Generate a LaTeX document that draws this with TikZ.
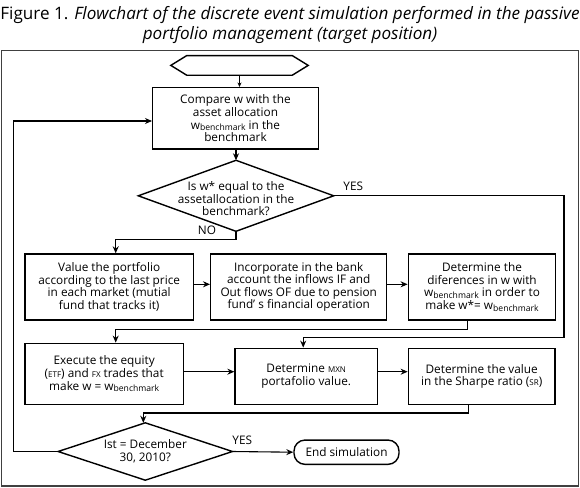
\documentclass[tikz,border=0pt]{standalone}
\usepackage{fontspec}
\setmainfont{Open Sans}
\usetikzlibrary{arrows.meta,calc}
\newcommand\wbm{w\raisebox{-0.25ex}{\fontsize{8.6}{8.6}\selectfont benchmark}}
\newcommand\smc[1]{{\fontsize{8}{8}\selectfont #1}}
\begin{document}
\begin{tikzpicture}[x=1pt,y=-1pt,
  box/.style={draw=black, line width=1.4pt, align=center, inner sep=0pt, font=\fontsize{11.8}{12.6}\selectfont},
  dec/.style={align=center, inner sep=0pt, font=\fontsize{11.8}{12.6}\selectfont},
  decline/.style={line width=1.4pt, line join=miter},
  conn/.style={line width=1.1pt, -{Stealth[length=7pt,width=6pt]}},
  thinconn/.style={line width=0.6pt, -{Stealth[length=4.5pt,width=4pt]}},
  lbl/.style={font=\fontsize{11.8}{12}\selectfont, inner sep=0pt},
  frame/.style={draw=black!75, line width=1.3pt}
]
\useasboundingbox (0,0) rectangle (580,487);
% title
\node[anchor=base, font=\fontsize{17.1}{20}\selectfont, inner sep=0pt] (t1) at (290,19.5) {Figure 1. \textit{Flowchart of the discrete event simulation performed in the passive}};
\node[anchor=base, font=\fontsize{17.1}{20}\selectfont, inner sep=0pt] (t2) at (290,39.5) {\textit{portfolio management (target position)}};
% frame
\draw[frame] (1.5,50.7) rectangle (578.5,486);
% start hexagon
\node[minimum width=137pt, minimum height=19.3pt, inner sep=0pt] (start) at (239.5,65.4) {};
\draw[decline] (start.west) -- ([xshift=16pt]start.north west) -- ([xshift=-16pt]start.north east) -- (start.east) -- ([xshift=-16pt]start.south east) -- ([xshift=16pt]start.south west) -- cycle;
% boxes
\node[box, minimum width=165.6pt, minimum height=61.3pt] (b1) at (235.5,118.3) {Compare w with the\\asset allocation\\\wbm{} in the\\benchmark};
\node[dec, minimum width=195pt, minimum height=70.6pt] (d1) at (236,195.8) {};
\node[dec] (d1t) at (236,198.8) {Is w* equal to the\\assetallocation in the\\benchmark?};
\draw[decline] (d1.north) -- (d1.east) -- (d1.south) -- (d1.west) -- cycle;
\node[box, minimum width=168.3pt, minimum height=66pt] (b2) at (109.2,287) {Value the portfolio\\according to the last price\\in each market (mutial\\fund that tracks it)};
\node[box, minimum width=176pt, minimum height=66pt] (b3) at (298.7,287) {Incorporate in the bank\\account the inflows IF and\\Out flows OF due to pension\\fund’ s financial operation};
\node[box, minimum width=147.4pt, minimum height=66pt] (b4) at (482,287) {Determine the\\diferences in w with\\\wbm{} in order to\\make w*= \wbm};
\node[box, minimum width=158.3pt, minimum height=61pt] (b5) at (104.2,373.8) {Execute the equity\\(\smc{ETF}) and \smc{FX} trades that\\make w = \wbm};
\node[box, minimum width=142.3pt, minimum height=56pt] (b6) at (306.2,376.3) {Determine \smc{MXN}\\portafolio value.};
\node[box, minimum width=146.7pt, minimum height=56pt] (b7) at (481.7,376.3) {Determine the value\\in the Sharpe ratio (\smc{SR})};
\node[dec, minimum width=174pt, minimum height=57pt] (d2) at (145.3,451.5) {Ist = December\\30, 2010?};
\draw[decline] (d2.north) -- (d2.east) -- (d2.south) -- (d2.west) -- cycle;
\node[box, minimum width=105pt, minimum height=24.3pt, rounded corners=11pt] (end) at (346.5,452.2) {End simulation};
% labels
\node[lbl] (yes1) at (353.3,186.7) {YES};
\node[lbl] (no1) at (207,230.7) {NO};
\node[lbl] (yes2) at (242.3,440) {YES};
% connectors
\coordinate (yc) at (564,337.3);
\coordinate (lp) at (13.3,121);
\draw[thinconn] (start.south) -- (start.south |- b1.north);
\draw[conn] (d1.north |- b1.south) -- (d1.north);
\draw[conn] (d1.south) -- ++(0,8.3) -| ([xshift=6.5pt]b2.north);
\draw[conn] (d1.east) -| (yc) -| ([xshift=-3pt]b6.north);
\draw[conn] ([yshift=2.7pt]b2.east) -- ([yshift=2.7pt]b3.west);
\draw[conn] ([yshift=2.7pt]b3.east) -- ([yshift=2.7pt]b4.west);
\draw[conn] ([xshift=-14.3pt]b4.south) -- ++(0,9) -| ([xshift=11.5pt]b5.north);
\draw[conn] ([yshift=2.1pt]b5.east) -- ([yshift=2.1pt]b5.east -| b6.west);
\draw[conn] ([yshift=2.1pt]b5.east -| b6.east) -- ([yshift=2.1pt]b5.east -| b7.west);
\draw[conn] ([xshift=-13.4pt]b7.south) -- ++(0,8) -| ([xshift=-2pt]d2.north);
\draw[conn] (d2.east) -- (end.west);
\draw[conn] (d2.west) -| (lp) -- (lp -| b1.west);
\end{tikzpicture}
\end{document}
